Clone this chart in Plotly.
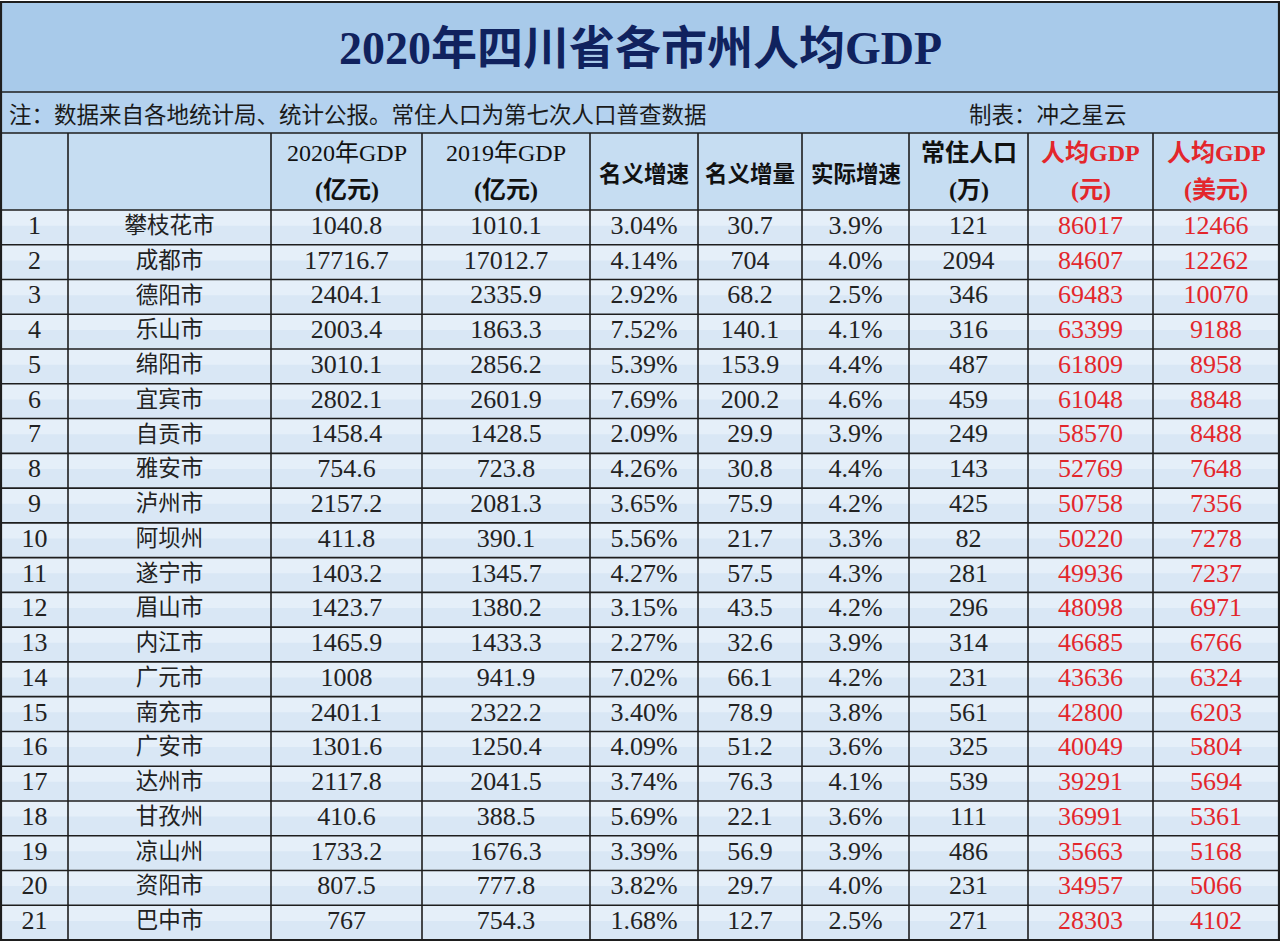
import plotly.graph_objects as go

# ---------------- data ----------------
title = "2020年四川省各市州人均GDP"
note_left = "注：数据来自各地统计局、统计公报。常住人口为第七次人口普查数据"
note_right = "制表：冲之星云"

header_line1 = ["", "", "2020年GDP", "2019年GDP", "名义增速", "名义增量", "实际增速", "常住人口", "人均GDP", "人均GDP"]
header_line2 = ["", "", "(亿元)", "(亿元)", "", "", "", "(万)", "(元)", "(美元)"]

rank = list(range(1, 22))
cities = ["攀枝花市", "成都市", "德阳市", "乐山市", "绵阳市", "宜宾市", "自贡市", "雅安市", "泸州市", "阿坝州",
          "遂宁市", "眉山市", "内江市", "广元市", "南充市", "广安市", "达州市", "甘孜州", "凉山州", "资阳市", "巴中市"]
gdp_2020 = [1040.8, 17716.7, 2404.1, 2003.4, 3010.1, 2802.1, 1458.4, 754.6, 2157.2, 411.8,
            1403.2, 1423.7, 1465.9, 1008, 2401.1, 1301.6, 2117.8, 410.6, 1733.2, 807.5, 767]
gdp_2019 = [1010.1, 17012.7, 2335.9, 1863.3, 2856.2, 2601.9, 1428.5, 723.8, 2081.3, 390.1,
            1345.7, 1380.2, 1433.3, 941.9, 2322.2, 1250.4, 2041.5, 388.5, 1676.3, 777.8, 754.3]
nominal_growth = [3.04, 4.14, 2.92, 7.52, 5.39, 7.69, 2.09, 4.26, 3.65, 5.56,
                  4.27, 3.15, 2.27, 7.02, 3.40, 4.09, 3.74, 5.69, 3.39, 3.82, 1.68]
nominal_increase = [30.7, 704, 68.2, 140.1, 153.9, 200.2, 29.9, 30.8, 75.9, 21.7,
                    57.5, 43.5, 32.6, 66.1, 78.9, 51.2, 76.3, 22.1, 56.9, 29.7, 12.7]
real_growth = [3.9, 4.0, 2.5, 4.1, 4.4, 4.6, 3.9, 4.4, 4.2, 3.3,
               4.3, 4.2, 3.9, 4.2, 3.8, 3.6, 4.1, 3.6, 3.9, 4.0, 2.5]
population = [121, 2094, 346, 316, 487, 459, 249, 143, 425, 82,
              281, 296, 314, 231, 561, 325, 539, 111, 486, 231, 271]
gdp_pc_yuan = [86017, 84607, 69483, 63399, 61809, 61048, 58570, 52769, 50758, 50220,
               49936, 48098, 46685, 43636, 42800, 40049, 39291, 36991, 35663, 34957, 28303]
gdp_pc_usd = [12466, 12262, 10070, 9188, 8958, 8848, 8488, 7648, 7356, 7278,
              7237, 6971, 6766, 6324, 6203, 5804, 5694, 5361, 5168, 5066, 4102]

# ---------------- layout geometry ----------------
W, H = 1280, 944
col_widths = [67, 203, 151, 168, 108, 104, 107, 119, 125, 126]
title_top, title_bot = 2, 92
note_bot = 133
header_bot = 210
table_bot = 940
n_rows = len(cities)
row_h = (table_bot - header_bot) / n_rows

col_edges = [1]
for w in col_widths:
    col_edges.append(col_edges[-1] + w)
col_centers = [(col_edges[i] + col_edges[i + 1]) / 2 for i in range(len(col_widths))]
row_centers = [header_bot + row_h * (i + 0.5) for i in range(n_rows)]

TITLE_BG = "#a8caea"
NOTE_BG = "#b4d2ef"
HEAD_BG = "#c6ddf2"
CELL_BG = "#d9e7f5"
CELL_TOP = "#e5eff9"
LINE = "#1e1e1e"
RED = "#e3262c"
NUM_FONT = "Liberation Serif, 'Noto Sans CJK SC', serif"
CJK_FONT = "'Noto Sans CJK SC', sans-serif"

fig = go.Figure()

shapes = []
shapes.append(dict(type="rect", x0=col_edges[0], x1=col_edges[-1], y0=title_top, y1=title_bot,
                   fillcolor=TITLE_BG, line=dict(width=0), layer="below"))
shapes.append(dict(type="rect", x0=col_edges[0], x1=col_edges[-1], y0=title_bot, y1=note_bot,
                   fillcolor=NOTE_BG, line=dict(width=0), layer="below"))
shapes.append(dict(type="rect", x0=col_edges[0], x1=col_edges[-1], y0=note_bot, y1=header_bot,
                   fillcolor=HEAD_BG, line=dict(width=0), layer="below"))
for i in range(n_rows):
    y0 = header_bot + i * row_h
    shapes.append(dict(type="rect", x0=col_edges[0], x1=col_edges[-1], y0=y0, y1=y0 + row_h,
                       fillcolor=CELL_BG, line=dict(width=0), layer="below"))
    shapes.append(dict(type="rect", x0=col_edges[0], x1=col_edges[-1], y0=y0, y1=y0 + row_h * 0.45,
                       fillcolor=CELL_TOP, line=dict(width=0), layer="below"))

for y in [title_bot, note_bot, header_bot] + [header_bot + i * row_h for i in range(1, n_rows)]:
    shapes.append(dict(type="line", x0=col_edges[0], x1=col_edges[-1], y0=y, y1=y,
                       line=dict(color=LINE, width=1.6)))
for x in col_edges[1:-1]:
    shapes.append(dict(type="line", x0=x, x1=x, y0=note_bot, y1=table_bot,
                       line=dict(color=LINE, width=1.6)))
shapes.append(dict(type="rect", x0=col_edges[0], x1=col_edges[-1], y0=title_top, y1=table_bot,
                   line=dict(color=LINE, width=2.2), fillcolor="rgba(0,0,0,0)"))

annotations = []
annotations.append(dict(x=(col_edges[0] + col_edges[-1]) / 2, y=(title_top + title_bot) / 2 + 1,
                        text="<b>" + title + "</b>", showarrow=False,
                        font=dict(family=NUM_FONT, size=46, color="#10225e"),
                        xanchor="center", yanchor="middle"))
annotations.append(dict(x=7, y=(title_bot + note_bot) / 2, text=note_left, showarrow=False,
                        font=dict(family=CJK_FONT, size=22.5, color="#1a1a1a"),
                        xanchor="left", yanchor="middle"))
annotations.append(dict(x=967, y=(title_bot + note_bot) / 2, text=note_right, showarrow=False,
                        font=dict(family=CJK_FONT, size=22.5, color="#1a1a1a"),
                        xanchor="left", yanchor="middle"))

for i, (l1, l2) in enumerate(zip(header_line1, header_line2)):
    if not l1:
        continue
    color = RED if i >= 8 else "#111111"
    if l2:
        t1 = l1 if i in (2, 3) else "<b>" + l1 + "</b>"
        annotations.append(dict(x=col_centers[i], y=note_bot + 20, text=t1, showarrow=False,
                                font=dict(family=NUM_FONT, size=24, color=color),
                                xanchor="center", yanchor="middle"))
        annotations.append(dict(x=col_centers[i], y=note_bot + 57, text="<b>" + l2 + "</b>", showarrow=False,
                                font=dict(family=NUM_FONT, size=24, color=color),
                                xanchor="center", yanchor="middle"))
    else:
        annotations.append(dict(x=col_centers[i], y=(note_bot + header_bot) / 2, text="<b>" + l1 + "</b>",
                                showarrow=False, font=dict(family=CJK_FONT, size=22.5, color=color),
                                xanchor="center", yanchor="middle"))

columns = [
    ([str(v) for v in rank], NUM_FONT, "#222222"),
    (cities, CJK_FONT, "#222222"),
    ([f"{v:g}" for v in gdp_2020], NUM_FONT, "#222222"),
    ([f"{v:g}" for v in gdp_2019], NUM_FONT, "#222222"),
    ([f"{v:.2f}%" for v in nominal_growth], NUM_FONT, "#222222"),
    ([f"{v:g}" for v in nominal_increase], NUM_FONT, "#222222"),
    ([f"{v:.1f}%" for v in real_growth], NUM_FONT, "#222222"),
    ([str(v) for v in population], NUM_FONT, "#222222"),
    ([str(v) for v in gdp_pc_yuan], NUM_FONT, RED),
    ([str(v) for v in gdp_pc_usd], NUM_FONT, RED),
]
for i, (texts, fam, color) in enumerate(columns):
    size = 22.5 if fam == CJK_FONT else 26
    fig.add_trace(go.Scatter(x=[col_centers[i]] * n_rows, y=row_centers, mode="text", text=texts,
                             textposition="middle center",
                             textfont=dict(family=fam, size=size, color=color),
                             hoverinfo="skip", showlegend=False))

fig.update_layout(
    width=W, height=H, margin=dict(l=0, r=0, t=0, b=0),
    paper_bgcolor="#ffffff", plot_bgcolor="#ffffff",
    xaxis=dict(range=[0, W], visible=False, fixedrange=True),
    yaxis=dict(range=[H, 0], visible=False, fixedrange=True),
    shapes=shapes, annotations=annotations,
)
fig.write_html("out.html", config={"displayModeBar": False},
               post_script="document.body.style.margin='0';document.body.style.overflow='hidden';")
